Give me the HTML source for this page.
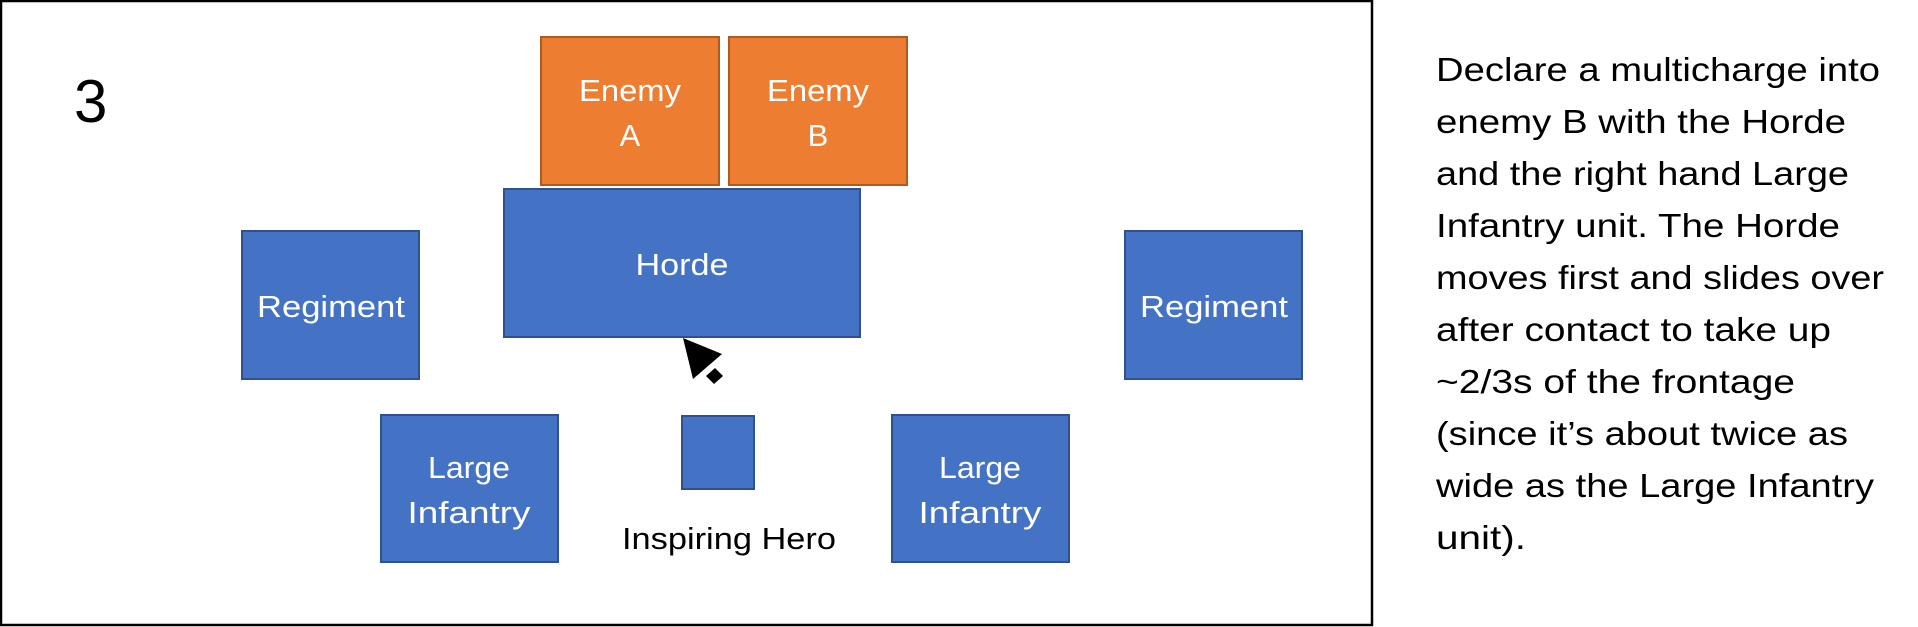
<!DOCTYPE html>
<html><head><meta charset="utf-8"><style>
html,body{margin:0;padding:0;background:#fff;}
svg{display:block;}
text{font-family:"Liberation Sans",sans-serif;}
</style></head><body>
<svg width="1918" height="627" viewBox="0 0 1918 627" xmlns="http://www.w3.org/2000/svg">
<rect x="1" y="1" width="1371" height="624" fill="#fff" stroke="#000" stroke-width="2.5"/>
<text x="74" y="122" font-size="60" fill="#000">3</text>
<g stroke-width="2">
<rect x="541" y="37" width="178" height="148" fill="#ED7D31" stroke="#AE5A21"/>
<rect x="729" y="37" width="178" height="148" fill="#ED7D31" stroke="#AE5A21"/>
<rect x="504" y="189" width="356" height="148" fill="#4472C4" stroke="#2F528F"/>
<rect x="242" y="231" width="177" height="148" fill="#4472C4" stroke="#2F528F"/>
<rect x="1125" y="231" width="177" height="148" fill="#4472C4" stroke="#2F528F"/>
<rect x="381" y="415" width="177" height="147" fill="#4472C4" stroke="#2F528F"/>
<rect x="892" y="415" width="177" height="147" fill="#4472C4" stroke="#2F528F"/>
<rect x="682" y="416" width="72" height="73" fill="#4472C4" stroke="#2F528F"/>
</g>
<g fill="#fff" font-size="31" text-anchor="middle">
<text x="630" y="101" textLength="102" lengthAdjust="spacingAndGlyphs">Enemy</text><text x="630" y="146">A</text>
<text x="818" y="101" textLength="102" lengthAdjust="spacingAndGlyphs">Enemy</text><text x="818" y="146">B</text>
<text x="682" y="275" textLength="93" lengthAdjust="spacingAndGlyphs">Horde</text>
<text x="331" y="317" textLength="148" lengthAdjust="spacingAndGlyphs">Regiment</text>
<text x="1214" y="317" textLength="148" lengthAdjust="spacingAndGlyphs">Regiment</text>
<text x="469" y="478" textLength="82" lengthAdjust="spacingAndGlyphs">Large</text><text x="469" y="523" textLength="123" lengthAdjust="spacingAndGlyphs">Infantry</text>
<text x="980" y="478" textLength="82" lengthAdjust="spacingAndGlyphs">Large</text><text x="980" y="523" textLength="123" lengthAdjust="spacingAndGlyphs">Infantry</text>
</g>
<text x="729" y="549" font-size="31" text-anchor="middle" fill="#000" textLength="214" lengthAdjust="spacingAndGlyphs">Inspiring Hero</text>
<polygon points="683,338 722,354 693,379" fill="#000"/>
<polygon points="715,368 723,376 714,384 706,376" fill="#000"/>
<g font-size="33" fill="#000">
<text x="1436" y="81" textLength="444" lengthAdjust="spacingAndGlyphs">Declare a multicharge into</text>
<text x="1436" y="133" textLength="410" lengthAdjust="spacingAndGlyphs">enemy B with the Horde</text>
<text x="1436" y="185" textLength="413" lengthAdjust="spacingAndGlyphs">and the right hand Large</text>
<text x="1436" y="237" textLength="404" lengthAdjust="spacingAndGlyphs">Infantry unit. The Horde</text>
<text x="1436" y="289" textLength="448" lengthAdjust="spacingAndGlyphs">moves first and slides over</text>
<text x="1436" y="341" textLength="395" lengthAdjust="spacingAndGlyphs">after contact to take up</text>
<text x="1436" y="393" textLength="359" lengthAdjust="spacingAndGlyphs">~2/3s of the frontage</text>
<text x="1436" y="445" textLength="412" lengthAdjust="spacingAndGlyphs">(since it’s about twice as</text>
<text x="1436" y="497" textLength="438" lengthAdjust="spacingAndGlyphs">wide as the Large Infantry</text>
<text x="1436" y="549" textLength="90" lengthAdjust="spacingAndGlyphs">unit).</text>
</g>
</svg>
</body></html>
